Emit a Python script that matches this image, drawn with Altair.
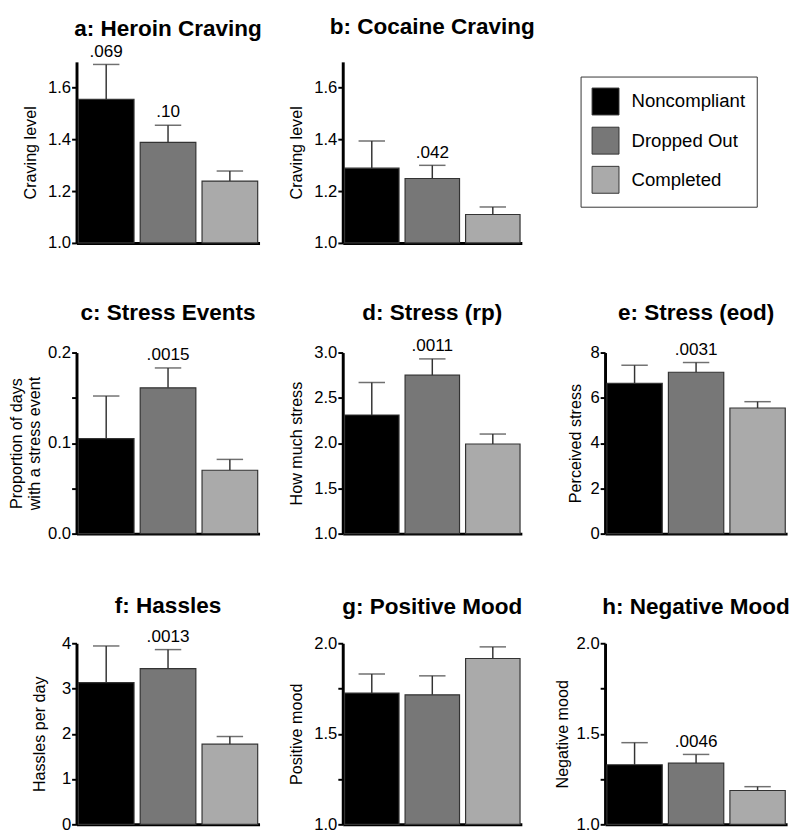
import altair as alt
import pandas as pd

FONT = "Liberation Sans"

groups = ["Noncompliant", "Dropped Out", "Completed"]
colors = ["#000000", "#777777", "#aaaaaa"]

panel_titles = ["a: Heroin Craving", "b: Cocaine Craving", "c: Stress Events",
                "d: Stress (rp)", "e: Stress (eod)", "f: Hassles",
                "g: Positive Mood", "h: Negative Mood"]
y_titles = ["Craving level", "Craving level",
            ["Proportion of days", "with a stress event"],
            "How much stress", "Perceived stress", "Hassles per day",
            "Positive mood", "Negative mood"]

mean_a = [1.555, 1.389, 1.239]
err_a = [0.135, 0.066, 0.039]
p_a = [".069", ".10", ""]

mean_b = [1.289, 1.249, 1.110]
err_b = [0.105, 0.051, 0.029]
p_b = ["", ".042", ""]

mean_c = [0.105, 0.161, 0.070]
err_c = [0.047, 0.022, 0.012]
p_c = ["", ".0015", ""]

mean_d = [2.31, 2.75, 1.99]
err_d = [0.36, 0.18, 0.11]
p_d = ["", ".0011", ""]

mean_e = [6.64, 7.13, 5.55]
err_e = [0.80, 0.43, 0.28]
p_e = ["", ".0031", ""]

mean_f = [3.13, 3.44, 1.77]
err_f = [0.81, 0.42, 0.17]
p_f = ["", ".0013", ""]

mean_g = [1.725, 1.715, 1.916]
err_g = [0.105, 0.105, 0.064]
p_g = ["", "", ""]

mean_h = [1.329, 1.338, 1.187]
err_h = [0.122, 0.048, 0.021]
p_h = ["", ".0046", ""]

dom_a = [1.0, 1.7]; ticks_a = [1.0, 1.1, 1.2, 1.3, 1.4, 1.5, 1.6]; major_a = [1.0, 1.2, 1.4, 1.6]
dom_b = [1.0, 1.7]; ticks_b = [1.0, 1.1, 1.2, 1.3, 1.4, 1.5, 1.6]; major_b = [1.0, 1.2, 1.4, 1.6]
dom_c = [0.0, 0.2]; ticks_c = [0.0, 0.05, 0.1, 0.15, 0.2]; major_c = [0.0, 0.1, 0.2]
dom_d = [1.0, 3.0]; ticks_d = [1.0, 1.25, 1.5, 1.75, 2.0, 2.25, 2.5, 2.75, 3.0]; major_d = [1.0, 1.5, 2.0, 2.5, 3.0]
dom_e = [0, 8]; ticks_e = [0, 1, 2, 3, 4, 5, 6, 7, 8]; major_e = [0, 2, 4, 6, 8]
dom_f = [0, 4]; ticks_f = [0, 0.5, 1, 1.5, 2, 2.5, 3, 3.5, 4]; major_f = [0, 1, 2, 3, 4]
dom_g = [1.0, 2.0]; ticks_g = [1.0, 1.25, 1.5, 1.75, 2.0]; major_g = [1.0, 1.5, 2.0]
dom_h = [1.0, 2.0]; ticks_h = [1.0, 1.25, 1.5, 1.75, 2.0]; major_h = [1.0, 1.5, 2.0]

legend = alt.Legend(title=None, orient="none", legendX=515, legendY=15,
                    strokeColor="#333333", padding=11, fillColor="white",
                    symbolType="square", symbolSize=756, symbolStrokeColor="#333333",
                    symbolStrokeWidth=1, symbolOpacity=1, labelFontSize=19, labelFont=FONT,
                    labelColor="black", labelOffset=12, rowPadding=7)

W1, W2, W3 = 187, 183, 186
H = 185


def panel(idx, means, errs, plabels, dom, ticks, majors, fmt, w, toff, tpad=9):
    df = pd.DataFrame({
        "group": groups,
        "mean": means,
        "upper": [m + e for m, e in zip(means, errs)],
        "p": plabels,
    })
    maj = "[" + ",".join(str(v) for v in majors) + "]"
    yscale = alt.Scale(domain=dom, nice=False, zero=False)
    base = alt.Chart(df).encode(
        x=alt.X("group:N", sort=groups, title=None,
                scale=alt.Scale(paddingInner=0.1, paddingOuter=0.03),
                axis=alt.Axis(labels=False, ticks=False, domainWidth=3,
                              domainColor="black", grid=False))
    )
    bars = base.mark_bar(stroke="#333333", strokeWidth=1.2).encode(
        y=alt.Y("mean:Q", scale=yscale, title=y_titles[idx],
                axis=alt.Axis(values=ticks,
                              labelExpr="indexof(" + maj + ", datum.value) >= 0 ? format(datum.value, '" + fmt + "') : ''",
                              domainWidth=3, domainColor="black", tickColor="black",
                              tickWidth=2, tickSize=5, labelFontSize=17, labelFont=FONT,
                              labelColor="black", labelPadding=1, titleFontSize=16.5,
                              titleFont=FONT, titleFontWeight="normal", titleColor="black",
                              titlePadding=tpad, grid=False)),
        y2=alt.datum(dom[0]),
        color=alt.Color("group:N", sort=groups,
                        scale=alt.Scale(domain=groups, range=colors), legend=legend),
    )
    rule = base.mark_rule(color="#333333", strokeWidth=1.5).encode(
        y=alt.Y("mean:Q", scale=yscale), y2="upper:Q")
    cap = base.mark_tick(color="#333333", size=27, thickness=1.5).encode(
        y=alt.Y("upper:Q", scale=yscale))
    txt = base.transform_filter("datum.p != ''").mark_text(
        font=FONT, fontSize=17.5, baseline="bottom", dy=-4, color="black").encode(
        y=alt.Y("upper:Q", scale=yscale), text="p:N")
    return alt.layer(rule, bars, cap, txt).properties(
        width=w, height=H,
        title=alt.TitleParams(panel_titles[idx], fontSize=23, fontWeight="bold",
                              font=FONT, anchor="middle", frame="group",
                              offset=toff, color="black"))


pa = panel(0, mean_a, err_a, p_a, dom_a, ticks_a, major_a, ".1f", W1, 2)
pb = panel(1, mean_b, err_b, p_b, dom_b, ticks_b, major_b, ".1f", W2, 23)
pc = panel(2, mean_c, err_c, p_c, dom_c, ticks_c, major_c, ".1f", W1, 19, tpad=5)
pd_ = panel(3, mean_d, err_d, p_d, dom_d, ticks_d, major_d, ".1f", W2, 13)
pe = panel(4, mean_e, err_e, p_e, dom_e, ticks_e, major_e, "d", W3, 16, tpad=7)
pf = panel(5, mean_f, err_f, p_f, dom_f, ticks_f, major_f, "d", W1, 10, tpad=14)
pg = panel(6, mean_g, err_g, p_g, dom_g, ticks_g, major_g, ".1f", W2, 16)
ph = panel(7, mean_h, err_h, p_h, dom_h, ticks_h, major_h, ".1f", W3, 16, tpad=6)

# empty slot that holds the legend area (top right)
slot = alt.Chart(pd.DataFrame({"group": groups})).mark_point(opacity=0).encode(
    x=alt.X("group:N", axis=None)).properties(width=W3, height=H)

chart = alt.concat(pa, pb, slot, pc, pd_, pe, pf, pg, ph, columns=3, align="each",
                   spacing={"row": 112, "column": 85}, bounds="flush",
                   padding={"left": 0, "top": 0, "right": 2, "bottom": 0}).configure(
    background="white").configure_view(strokeWidth=0)

chart.save("out.html", embed_options={"renderer": "svg", "actions": False})
